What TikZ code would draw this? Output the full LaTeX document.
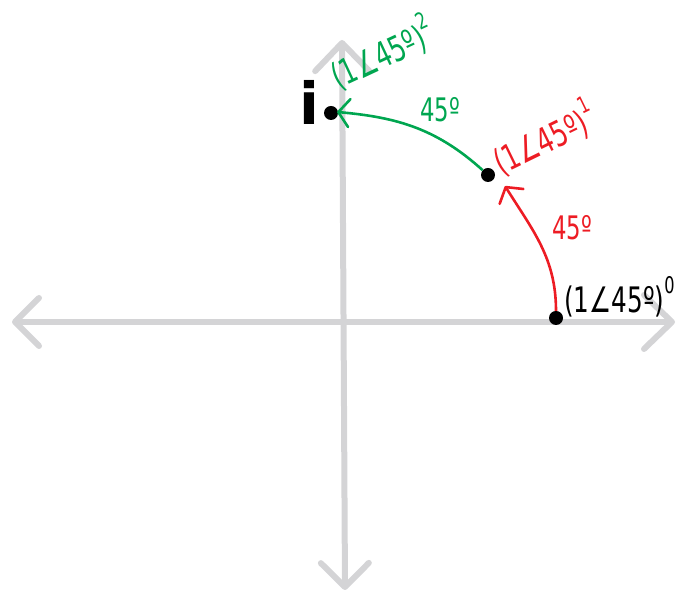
\documentclass[tikz,border=0pt]{standalone}
\usepackage{fontspec}
\usepackage{graphicx}
\setmainfont{DejaVu Sans}
\usetikzlibrary{arrows.meta}
\definecolor{cAxis}{RGB}{212,212,214}
\definecolor{cRed}{RGB}{237,28,36}
\definecolor{cGreen}{RGB}{0,166,80}
\newcommand{\hoch}[1]{\raisebox{0.55em}{\fontsize{17}{18}\selectfont #1}}
\newcommand{\lang}[1]{\scalebox{0.95}[1.35]{#1}}

\begin{document}
\begin{tikzpicture}[
  x=1pt, y=1pt,
  axis/.style  = {draw=cAxis, line width=6pt, line cap=round,
                  {Straight Barb[length=24pt, width=48pt, round]}-{Straight Barb[length=28pt, width=54pt, round]}},
  dot/.style   = {circle, fill=black, minimum size=14pt, inner sep=0pt},
  turn/.style  = {line width=2.6pt, -{Straight Barb[length=11pt, width=28pt, round]}},
  pow/.style   = {font=\fontsize{26}{30}\selectfont, inner sep=0pt, anchor=base west},
  ang/.style   = {font=\fontsize{24}{26}\selectfont, inner sep=0pt}
]
\useasboundingbox (0,0) rectangle (678,596);

% ------------------------------------------------------------------ assi --
\coordinate (xl) at (12,274);
\coordinate (xr) at (675,274);
\coordinate (yb) at (345,6);
\coordinate (yt) at (342,556);
\draw[axis] (xl) -- (xr);
\draw[axis] (yb) -- (yt);

% --------------------------------------------------------------- i punti --
\node[dot]                 (z0) at (556,278) {};
\node[dot]                 (z1) at (488,421) {};
\node[dot]                 (zi) at (331,483) {};
\coordinate (t1) at (505,410);
\coordinate (t2) at (337,484);

% ----------------------------------------------------------- le rotazioni --
\draw[turn, cRed]   (z0) to[out=90, in=-58]  (t1);
\draw[turn, cGreen] (z1) to[out=138, in=-5]  (t2);

% ---------------------------------------------------------------- etichette --
\node[pow]                         (p0) at (564,283) {\lang{(1∠45º)\hoch{0}}};
\node[pow, text=cRed, rotate=26]   (p1) at (501,420) {\lang{(1∠45º)\hoch{1}}};
\node[pow, text=cGreen, rotate=25] (p2) at (338,506) {\lang{(1∠45º)\hoch{2}}};
\node[ang, text=cRed]   (a1) at (572,368) {\lang{45º}};
\node[ang, text=cGreen] (a2) at (440,486) {\lang{45º}};
\node[font=\fontsize{58}{60}\selectfont\bfseries, inner sep=0pt] (ii) at (309,494) {i};

\end{tikzpicture}
\end{document}
